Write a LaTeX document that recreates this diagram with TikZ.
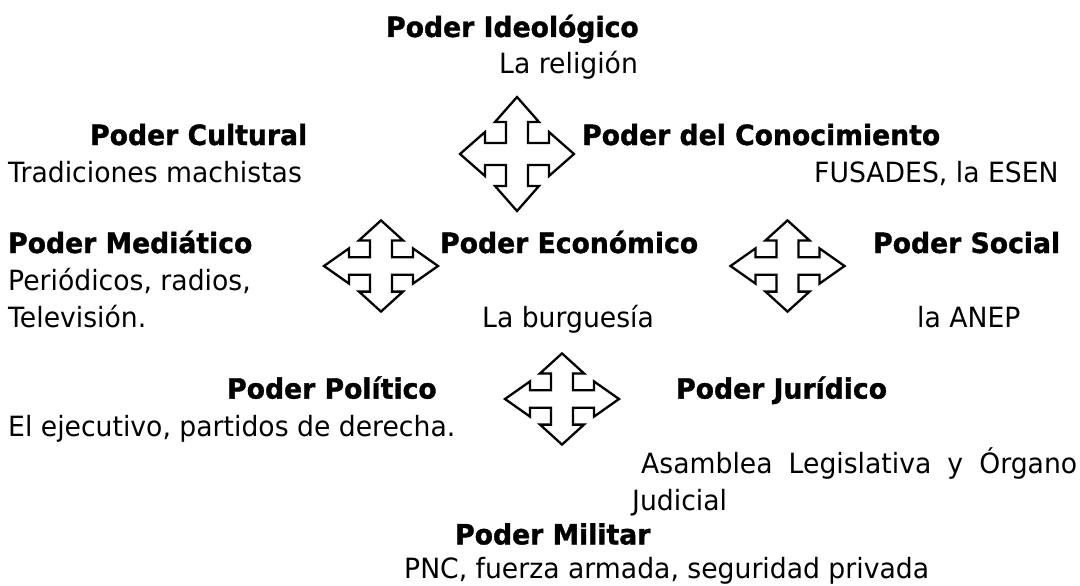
\documentclass[tikz,border=0pt]{standalone}
\usepackage{fontspec}
\setmainfont{DejaVu Sans}[FakeStretch=0.955]
\newfontfamily\heavyfont{DejaVu Sans}[FakeStretch=0.955, BoldFeatures={FakeBold=1.2}]
\tikzset{
  txt/.style={anchor=base west, inner sep=0pt, font=\fontsize{27.9}{33}\selectfont},
  btxt/.style={anchor=base west, inner sep=0pt, font=\fontsize{27.9}{33}\selectfont\heavyfont\bfseries},
  arrowline/.style={draw=black, line width=2.3pt, line join=miter, fill=white},
  quadarrow/.pic={
    \path[arrowline] (0,57) -- (22,32) -- (11,32) -- (11,11) -- (32,11) -- (32,22) -- (57,0)
      -- (32,-22) -- (32,-11) -- (11,-11) -- (11,-32) -- (22,-32) -- (0,-57)
      -- (-22,-32) -- (-11,-32) -- (-11,-11) -- (-32,-11) -- (-32,-22) -- (-57,0)
      -- (-32,22) -- (-32,11) -- (-11,11) -- (-11,32) -- (-22,32) -- cycle;
  }
}
\begin{document}
\begin{tikzpicture}[x=1pt,y=1pt]
\useasboundingbox (0,0) rectangle (1080,-586);
% arrows
\pic (a1) at (517,-154) {quadarrow};
\pic[yscale=0.8] (a2) at (381,-266) {quadarrow};
\pic[yscale=0.8] (a3) at (787.5,-266) {quadarrow};
\pic[yscale=0.8] (a4) at (562,-399) {quadarrow};
% texts
\node[btxt] (ideo) at (386,-37) {Poder Ideológico};
\node[txt] (ideot) at (499,-73.5) {La religión};
\node[btxt] (cult) at (90,-145) {Poder Cultural};
\node[txt] (cultt) at (8,-182) {Tradiciones machistas};
\node[btxt] (cono) at (582,-145) {Poder del Conocimiento};
\node[txt] (conot) at (814,-182.5) {FUSADES, la ESEN};
\node[btxt] (medi) at (8,-253) {Poder Mediático};
\node[txt] (medit1) at (8,-290) {Periódicos, radios,};
\node[txt] (medit2) at (8,-327.6) {Televisión.};
\node[btxt] (econ) at (440,-253) {Poder Económico};
\node[txt] (econt) at (482,-327.6) {La burguesía};
\node[btxt] (soci) at (873,-253) {Poder Social};
\node[txt] (socit) at (917,-327.6) {la ANEP};
\node[btxt] (poli) at (227,-398.6) {Poder Político};
\node[txt] (polit) at (8,-436) {El ejecutivo, partidos de derecha.};
\node[btxt] (juri) at (676,-398.6) {Poder Jurídico};
\node[txt] (jurit1) at (641,-473.4) {\makebox[436pt][s]{Asamblea Legislativa y Órgano}};
\node[txt] (jurit2) at (632,-510) {Judicial};
\node[btxt] (mili) at (455,-544.4) {Poder Militar};
\node[txt] (milit) at (404,-578) {PNC, fuerza armada, seguridad privada};
\end{tikzpicture}
\end{document}
